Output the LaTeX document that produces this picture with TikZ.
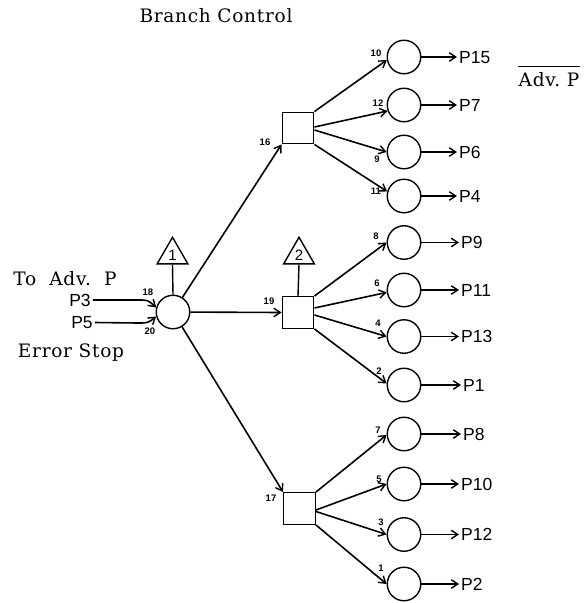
\documentclass[tikz,border=0pt]{standalone}
\usepackage{fontspec}
\setmainfont{DejaVu Serif}
\newfontfamily\labfont{Liberation Sans}
\usetikzlibrary{arrows.meta,shapes.geometric}
\begin{document}
\begin{tikzpicture}[x=1pt,y=-1pt,
  conn/.style={line width=1.6pt,-{Straight Barb[length=6.5pt,width=8.5pt,line width=1.4pt]}},
  plain/.style={line width=1.4pt},
  cell/.style={circle,draw,line width=1.4pt,minimum size=33.5pt,inner sep=0pt},
  box/.style={rectangle,draw,line width=1.4pt,minimum size=31.5pt,inner sep=0pt},
  tri/.style={regular polygon,regular polygon sides=3,draw,line width=1.4pt,minimum size=35.5pt,inner sep=0pt,font=\labfont\fontsize{15}{15}\selectfont},
  plabel/.style={anchor=west,inner sep=2pt,text depth=0pt,font=\labfont\fontsize{17.5}{17.5}\selectfont},
  inlab/.style={inner sep=2pt,text depth=0pt,font=\labfont\fontsize{17.5}{17.5}\selectfont},
  num/.style={inner sep=0pt,font=\labfont\bfseries\fontsize{9.5}{9.5}\selectfont},
  txt/.style={inner sep=0pt,text depth=0pt,font=\fontsize{18.5}{18.5}\selectfont\addfontfeature{LetterSpace=4}}
]
\useasboundingbox (0,0) rectangle (586,603);
% texts
\node[txt] (bc) at (216,15) {Branch Control};
\node[txt] (toadv) at (65,278.5) {To\ \ Adv.\ \ P};
\node[txt] (err) at (71,351) {Error Stop};
\node[txt] (adv) at (549,79) {Adv.\ P};
\draw[line width=0.9pt] ([yshift=5pt]adv.north west) -- ([yshift=5pt]adv.north east);
% main nodes
\node[cell] (M) at (173,312) {};
\node[tri] (T1) at (172.5,255) {1};
\node[box] (S1) at (298,128) {};
\node[box] (S2) at (298,312.5) {};
\node[box] (S3) at (299.5,508.5) {};
\node[tri] (T2) at (299,255) {2};
% circles
\node[cell] (a1) at (404,57) {};
\node[cell] (a2) at (404,105) {};
\node[cell] (a3) at (404,152) {};
\node[cell] (a4) at (404,196) {};
\node[cell] (b1) at (404,242.5) {};
\node[cell] (b2) at (404,290) {};
\node[cell] (b3) at (404,336.5) {};
\node[cell] (b4) at (404,385) {};
\node[cell] (c1) at (404,434) {};
\node[cell] (c2) at (404,484) {};
\node[cell] (c3) at (404,534.5) {};
\node[cell] (c4) at (404,584) {};
% output labels
\node[plabel] (la1) at (457,57) {P15};
\node[plabel] (la2) at (457,105) {P7};
\node[plabel] (la3) at (457,152) {P6};
\node[plabel] (la4) at (457,196) {P4};
\node[plabel] (lb1) at (459,242.5) {P9};
\node[plabel] (lb2) at (459,290) {P11};
\node[plabel] (lb3) at (459,336.5) {P13};
\node[plabel] (lb4) at (461,385) {P1};
\node[plabel] (lc1) at (461,434) {P8};
\node[plabel] (lc2) at (459,484) {P10};
\node[plabel] (lc3) at (459,534.5) {P12};
\node[plabel] (lc4) at (459,584) {P2};
\foreach \n in {a1,a2,a3,a4,b1,b2,b3,b4,c1,c2,c3,c4}{
  \draw[conn] (\n) -- (l\n);
}
% inputs
\node[inlab] (p3) at (80,300) {P3};
\node[inlab] (p5) at (82,322.5) {P5};
\coordinate (k3) at (138,300);
\coordinate (k5) at (138,323);
\draw[conn] (p3.east) -- (k3) .. controls (148,300) .. (M.165);
\draw[conn] (p5.east) -- (k5) .. controls (148,323) .. (M.195);
\node[num] (n18) at (148,292) {18};
\node[num] (n20) at (150,331) {20};
% main to squares
\draw[plain] (T1.south) -- (M.north);
\draw[plain] (T2.south) -- (S2.north);
\draw[conn] (M) -- (S1.south west);
\draw[conn] (M) -- (S2.west);
\draw[conn] (M) -- (S3.north west);
\node[num] (n16) at (265,142) {16};
\node[num] (n19) at (269,301.5) {19};
\node[num] (n17) at (271,498.5) {17};
% square outputs
\draw[conn] (S1.north east) -- (a1.190);
\draw[conn] ([yshift=1pt]S1.east) -- (a2.200);
\draw[conn] ([yshift=-2pt]S1.east) -- (a3.180);
\draw[conn] (S1.south east) -- (a4.165);
\draw[conn] (S2.north east) -- (b1.180);
\draw[conn] ([yshift=4.5pt]S2.east) -- (b2.188);
\draw[conn] ([yshift=-2.5pt]S2.east) -- (b3.180);
\draw[conn] (S2.south east) -- (b4.175);
\draw[conn] (S3.north east) -- (c1.183);
\draw[conn] ([yshift=-1.5pt]S3.east) -- (c2.180);
\draw[conn] ([yshift=-3pt]S3.east) -- (c3.180);
\draw[conn] (S3.south east) -- (c4.180);
% small numbers
\node[num] (m10) at (376,53) {10};
\node[num] (m12) at (378,103) {12};
\node[num] (m9) at (377,159) {9};
\node[num] (m11) at (376,191) {11};
\node[num] (m8) at (376,236) {8};
\node[num] (m6) at (377,283.5) {6};
\node[num] (m4) at (378,323.5) {4};
\node[num] (m2) at (379,371) {2};
\node[num] (m7) at (378,430) {7};
\node[num] (m5) at (379,479.5) {5};
\node[num] (m3) at (381,522) {3};
\node[num] (m1) at (381,568.5) {1};
\end{tikzpicture}
\end{document}
